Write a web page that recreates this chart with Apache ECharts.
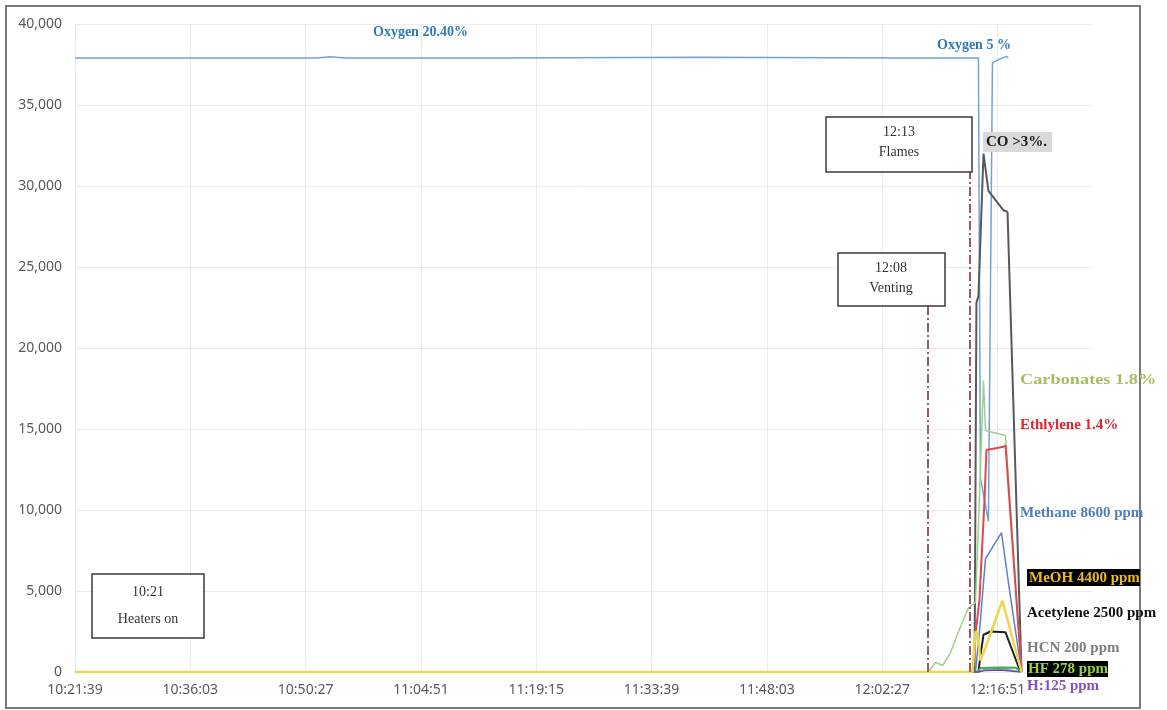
<!DOCTYPE html>
<html>
<head>
<meta charset="utf-8">
<script src="https://cdn.jsdelivr.net/npm/echarts@6/dist/echarts.min.js"></script>
<style>
  html, body { margin: 0; padding: 0; background: #ffffff; }
  #chart { width: 1167px; height: 710px; }
</style>
</head>
<body>
<div id="chart"></div>
<script>
// Gas concentrations logged during the abuse test (scaled ppm units on the Y axis)
const startTime = '10:21:39';
const xTickLabels = ['10:21:39', '10:36:03', '10:50:27', '11:04:51', '11:19:15',
                     '11:33:39', '11:48:03', '12:02:27', '12:16:51'];
const eventTimes = ['12:08:10', '12:13:25'];          // venting, flames

const oxygenTimes  = ['10:21:39', '10:51:53', '10:53:31', '10:55:23', '11:14:45', '11:39:44', '12:04:44',
                      '12:14:28', '12:14:43', '12:15:43', '12:16:13', '12:16:58', '12:17:58', '12:18:13'];
const oxygenValues = [37900, 37900, 37980, 37900, 37900, 37950, 37900,
                      37900, 12000, 9300, 37600, 37800, 38000, 37900];

const coTimes  = ['10:21:39', '12:13:59', '12:14:13', '12:14:28', '12:15:06', '12:15:43', '12:17:36', '12:18:06', '12:19:51'];
const coValues = [0, 0, 22800, 23200, 32000, 29700, 28500, 28400, 0];

const carbonatesTimes  = ['10:21:39', '12:08:14', '12:09:06', '12:09:59', '12:10:59', '12:11:59', '12:13:13',
                          '12:14:06', '12:14:28', '12:15:06', '12:15:21', '12:16:13', '12:17:51', '12:19:51'];
const carbonatesValues = [0, 0, 600, 400, 1200, 2500, 3950, 4300, 9000, 18000, 14900, 14800, 14600, 0];

const ethyleneTimes  = ['10:21:39', '12:13:44', '12:13:59', '12:14:13', '12:14:36', '12:15:13', '12:15:28', '12:17:36', '12:17:51', '12:19:51'];
const ethyleneValues = [0, 0, 1500, 2800, 4500, 10500, 13700, 13900, 14000, 0];

const methaneTimes  = ['10:21:39', '12:14:06', '12:14:36', '12:15:21', '12:17:21', '12:18:13', '12:19:51'];
const methaneValues = [0, 0, 2500, 7000, 8600, 5500, 0];

const acetyleneTimes  = ['10:21:39', '12:14:28', '12:14:43', '12:15:06', '12:15:58', '12:17:51', '12:19:43'];
const acetyleneValues = [0, 0, 1000, 2300, 2500, 2450, 0];

const hcnTimes  = ['10:21:39', '12:14:28', '12:15:06', '12:16:28', '12:17:51', '12:19:43'];
const hcnValues = [0, 0, 150, 200, 180, 0];

const hfTimes  = ['10:21:39', '12:14:21', '12:14:43', '12:17:13', '12:19:06', '12:19:51'];
const hfValues = [0, 0, 250, 278, 270, 0];

const h2Times  = ['10:21:39', '12:14:28', '12:15:21', '12:17:13', '12:19:43'];
const h2Values = [0, 0, 100, 125, 0];

const meohTimes  = ['10:21:39', '12:13:44', '12:14:06', '12:14:21', '12:14:43', '12:15:21', '12:17:28', '12:19:51'];
const meohValues = [0, 0, 2500, 2400, 700, 1500, 4400, 0];

function toSec(t) {
  const p = t.split(':').map(Number);
  return p[0] * 3600 + p[1] * 60 + p[2];
}
const t0 = toSec(startTime);
function pairs(times, values) {
  return times.map((t, i) => [toSec(t) - t0, values[i]]);
}
const tickStep = toSec(xTickLabels[1]) - toSec(xTickLabels[0]);

function line(name, times, values, color, width) {
  return {
    name: name,
    type: 'line',
    data: pairs(times, values),
    showSymbol: false,
    symbol: 'none',
    lineStyle: { color: color, width: width },
    itemStyle: { color: color },
    animation: false,
    z: 3
  };
}

const series = [
  line('Oxygen', oxygenTimes, oxygenValues, '#6fa3d8', 1.5),
  line('CO', coTimes, coValues, '#555a60', 2),
  line('Carbonates', carbonatesTimes, carbonatesValues, '#9fd08a', 1.5),
  line('Ethylene', ethyleneTimes, ethyleneValues, '#e2474a', 2),
  line('Methane', methaneTimes, methaneValues, '#5c7fcf', 1.5),
  line('Acetylene', acetyleneTimes, acetyleneValues, '#222222', 2),
  line('HCN', hcnTimes, hcnValues, '#a6a6a6', 1.5),
  line('HF', hfTimes, hfValues, '#2fb24f', 2),
  line('H2', h2Times, h2Values, '#7b3fb0', 1.5),
  line('MeOH', meohTimes, meohValues, '#efd54a', 2.5)
];

// Event markers: dash-dot verticals under the venting and flames boxes
series[0].markLine = {
  silent: true,
  symbol: 'none',
  label: { show: false },
  lineStyle: { color: '#a05866', width: 2, type: [9, 3, 2, 3] },
  data: [
    [{ coord: [toSec(eventTimes[0]) - t0, 0] }, { coord: [toSec(eventTimes[0]) - t0, 22600] }],
    [{ coord: [toSec(eventTimes[1]) - t0, 0] }, { coord: [toSec(eventTimes[1]) - t0, 30860] }]
  ]
};

const serif = '"Liberation Serif", "Times New Roman", serif';
function txt(x, y, text, fill, size, weight, align) {
  return {
    type: 'text', x: x, y: y, z: 20,
    style: {
      text: text, fill: fill,
      font: (weight || 'bold') + ' ' + size + 'px ' + serif,
      align: align || 'left', verticalAlign: 'middle',
      textAlign: align || 'left', textVerticalAlign: 'middle'
    }
  };
}
function box(x, y, w, h, fill, stroke, lw) {
  return {
    type: 'rect', z: 15,
    shape: { x: x, y: y, width: w, height: h },
    style: { fill: fill, stroke: stroke || null, lineWidth: lw || 0 }
  };
}

const graphics = [
  // outer frame
  { type: 'rect', z: 1, shape: { x: 6, y: 6, width: 1134, height: 702 },
    style: { fill: null, stroke: '#7a7a7a', lineWidth: 2 } },

  // event boxes
  box(92, 574, 112, 64, '#ffffff', '#3a3a3a', 1.5),
  txt(148, 592, '10:21', '#333333', 14, 'normal', 'center'),
  txt(148, 619, 'Heaters on', '#333333', 14, 'normal', 'center'),

  box(838, 253, 107, 53, '#ffffff', '#3a3a3a', 1.5),
  txt(891, 268, '12:08', '#333333', 14, 'normal', 'center'),
  txt(891, 288, 'Venting', '#333333', 14, 'normal', 'center'),

  box(826, 117, 146, 55, '#ffffff', '#3a3a3a', 1.5),
  txt(899, 132, '12:13', '#333333', 14, 'normal', 'center'),
  txt(899, 152, 'Flames', '#333333', 14, 'normal', 'center'),

  // gas labels
  txt(373, 32, 'Oxygen 20.40%', '#2f7bb8', 14, 'bold'),
  txt(937, 45, 'Oxygen 5 %', '#2f7bb8', 14, 'bold'),

  box(983, 132, 69, 20, '#d9d9d9'),
  txt(986, 142, 'CO >3%.', '#1a1a1a', 15, 'bold'),

  Object.assign(txt(1020, 380, 'Carbonates 1.8%', '#a8bd62', 15, 'bold'), { scaleX: 1.22, originX: 0, originY: 0 }),
  txt(1020, 425, 'Ethlylene 1.4%', '#e0252b', 15, 'bold'),
  txt(1020, 513, 'Methane 8600 ppm', '#4f7fbf', 15, 'bold'),

  box(1027, 569, 113, 17, '#000000'),
  txt(1029, 578, 'MeOH 4400 ppm', '#e8b830', 15, 'bold'),

  txt(1027, 613, 'Acetylene 2500 ppm', '#111111', 15, 'bold'),
  txt(1027, 648, 'HCN 200 ppm', '#7f7f7f', 15, 'bold'),

  box(1027, 661, 81, 16, '#000000'),
  txt(1028, 669, 'HF 278 ppm', '#92d050', 15, 'bold'),

  txt(1027, 686, 'H:125 ppm', '#8a4cc0', 15, 'bold')
];

const chart = echarts.init(document.getElementById('chart'), null, { renderer: 'canvas' });
chart.setOption({
  animation: false,
  backgroundColor: '#ffffff',
  grid: { left: 75, right: 75, top: 24, bottom: 38, containLabel: false },
  xAxis: {
    type: 'value',
    min: 0,
    max: 7620,
    interval: tickStep,
    axisLine: { show: false },
    axisTick: { show: false },
    axisLabel: {
      color: '#595959',
      fontFamily: '"Noto Sans", sans-serif',
      fontSize: 14,
      margin: 11,
      showMaxLabel: false,
      formatter: function (v) {
        const i = Math.round(v / tickStep);
        return Math.abs(v - i * tickStep) < 1 ? (xTickLabels[i] || '') : '';
      }
    },
    splitLine: { show: true, showMaxLine: false, lineStyle: { color: '#ebebeb', width: 1 } }
  },
  yAxis: {
    type: 'value',
    min: 0,
    max: 40000,
    interval: 5000,
    axisLine: { show: false },
    axisTick: { show: false },
    axisLabel: {
      color: '#595959',
      fontFamily: '"Noto Sans", sans-serif',
      fontSize: 14,
      margin: 13,
      formatter: function (v) { return v.toLocaleString('en-US'); }
    },
    splitLine: { show: true, lineStyle: { color: '#ebebeb', width: 1 } }
  },
  series: series,
  graphic: graphics
});
</script>
</body>
</html>
